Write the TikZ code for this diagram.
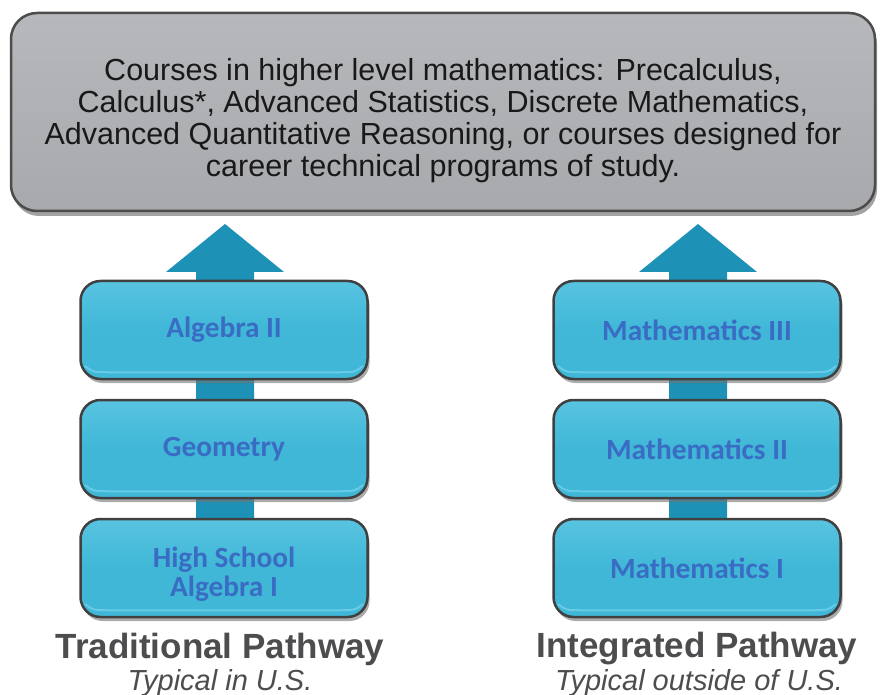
\documentclass[tikz,border=0pt]{standalone}
\usepackage{fontspec}
\setmainfont{Liberation Sans}
\newfontfamily\carlito{Carlito}
\usetikzlibrary{calc}
\definecolor{boxblue}{HTML}{40B7D7}
\definecolor{boxlight}{HTML}{6FD0EA}
\definecolor{arrowblue}{HTML}{1E91B6}
\definecolor{txtblue}{HTML}{3A6CC4}
\definecolor{topgray}{HTML}{A7A9AD}
\definecolor{toplight}{HTML}{B6B8BC}
\definecolor{labelgray}{HTML}{4D4D4F}
\begin{document}
\begin{tikzpicture}[x=1pt,y=-1pt,
  coursebox/.style={rounded corners=20pt, minimum width=287pt, minimum height=98pt,
    top color=boxlight!50!boxblue, bottom color=boxblue, middle color=boxblue,
    draw=black!75, line width=2.5pt,
    preaction={fill=black!55, opacity=0.6, transform canvas={xshift=2pt,yshift=-4pt}},
    font=\carlito\bfseries\fontsize{29.3}{29}\selectfont, text=txtblue, align=center, inner sep=0pt},
  topbox/.style={rounded corners=26pt, minimum width=864pt, minimum height=198pt,
    top color=toplight, bottom color=topgray,
    draw=black!70, line width=2.5pt,
    preaction={fill=black!60, opacity=0.6, transform canvas={xshift=2pt,yshift=-5pt}},
    inner sep=0pt},
  toptext/.style={font=\fontsize{30.5}{32}\selectfont, text=black!90, align=center, inner sep=0pt},
  shine/.style={draw=boxlight, line width=2pt, line cap=round, opacity=0.8},
  pathtitle/.style={font=\bfseries\fontsize{35}{36}\selectfont, text=labelgray},
  pathsub/.style={font=\itshape\fontsize{29}{30}\selectfont, text=labelgray},
  flow/.style={fill=arrowblue, draw=none}
]
\useasboundingbox (0,0) rectangle (884,695);

% top box
\node[topbox] (top) at (443,112) {};
\node[toptext] (toptxt) at ($(top.center)+(0,9)$) {Courses in higher level mathematics: Precalculus,\\
Calculus*, Advanced Statistics, Discrete Mathematics,\\
Advanced Quantitative Reasoning, or courses designed for\\
career technical programs of study.};

% arrow anchors
\coordinate (la) at (225,272);
\coordinate (ra) at (698,272);

% arrows (behind boxes)
\fill[flow] ($(la)+(-29,0)$) -- ($(la)+(-59,0)$) -- ($(la)+(0,-48)$) -- ($(la)+(59,0)$) -- ($(la)+(29,0)$) -- ($(la)+(29,260)$) -- ($(la)+(-29,260)$) -- cycle;
\fill[flow] ($(ra)+(-29,0)$) -- ($(ra)+(-59,0)$) -- ($(ra)+(0,-48)$) -- ($(ra)+(59,0)$) -- ($(ra)+(29,0)$) -- ($(ra)+(29,260)$) -- ($(ra)+(-29,260)$) -- cycle;

% traditional pathway
\node[coursebox] (l1) at (224,330) {Algebra II};
\node[coursebox] (l2) at (224,449) {Geometry};
\node[coursebox] (l3) at (224,568) {\rule{0pt}{33pt}High School\\Algebra I};

% integrated pathway
\node[coursebox] (r1) at (697,330) {Mathematics III};
\node[coursebox] (r2) at (697,449) {Mathematics II};
\node[coursebox] (r3) at (697,568) {Mathematics I};

% bottom highlights
\foreach \b in {l1,l2,l3,r1,r2,r3}{
  \draw[shine] ($(\b.south west)+(6,-14)$) .. controls ($(\b.south west)+(14,-8)$) .. ($(\b.south west)+(30,-8)$)
    -- ($(\b.south east)+(-30,-8)$) .. controls ($(\b.south east)+(-14,-8)$) .. ($(\b.south east)+(-6,-14)$);
}

% labels
\node[pathtitle] (lt) at (220,649) {Traditional Pathway};
\node[pathsub] (ls) at (220,683) {Typical in U.S.};
\node[pathtitle] (rt) at (697,649) {Integrated Pathway};
\node[pathsub] (rs) at (699,683) {Typical outside of U.S.};
\end{tikzpicture}
\end{document}
